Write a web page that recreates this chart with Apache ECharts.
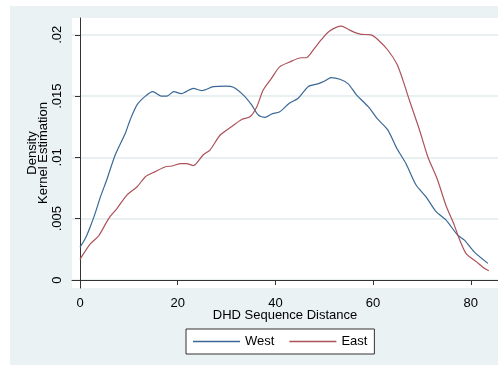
<!DOCTYPE html>
<html><head><meta charset="utf-8">
<script src="https://cdn.jsdelivr.net/npm/echarts@6/dist/echarts.min.js"></script>
<style>html,body{margin:0;padding:0;background:#fff}#c{width:498px;height:365px}</style>
</head><body><div id="c"></div>
<script>
const westX = [0,1.1,2.1,3.1,4.2,5.5,7.2,9.3,10.3,11.7,13.4,14.9,16.6,17.8,19.2,20.7,23.2,24.9,27.3,30.0,31.4,33.4,35.1,36.5,37.9,39.2,40.9,42.8,44.6,46.7,48.7,50.1,51.4,53.2,54.9,56.6,59.0,61.0,63.0,64.9,66.7,68.8,70.8,72.9,74.9,77.3,78.7,80.7,83.5];
const westY = [0.00267,0.0034,0.00435,0.00544,0.0068,0.0082,0.0102,0.0120,0.0131,0.0143,0.0150,0.01536,0.0150,0.0150,0.01536,0.0152,0.01563,0.01545,0.01577,0.01582,0.01572,0.0151,0.0143,0.01346,0.01327,0.01354,0.01373,0.0144,0.0148,0.01577,0.0160,0.01623,0.0165,0.01637,0.0160,0.0151,0.01414,0.0131,0.01224,0.0107,0.00952,0.00775,0.0068,0.00557,0.0049,0.00367,0.00326,0.0023,0.00136];
const eastX = [0,2.1,3.8,5.9,7.6,9.6,11.7,13.4,15.4,17.5,18.8,20.7,21.8,23.2,25.2,26.6,28.7,31.0,33.1,34.8,36.2,37.5,39.2,40.9,42.8,45.3,46.3,48.0,49.4,51.1,53.5,54.9,56.2,57.6,59.6,61.0,63.0,64.9,66.1,67.4,69.5,71.2,73.2,74.9,76.6,77.6,79.0,81.1,83.1,83.7];
const eastY = [0.00169,0.00294,0.00359,0.00503,0.00585,0.00693,0.00761,0.00843,0.00884,0.00924,0.0093,0.0095,0.0095,0.00933,0.0102,0.0106,0.01183,0.0125,0.0131,0.01332,0.01414,0.0155,0.01645,0.0174,0.01776,0.01813,0.01813,0.0189,0.0196,0.0203,0.0207,0.02045,0.0202,0.02004,0.0200,0.0196,0.01876,0.0176,0.0163,0.0147,0.01224,0.01006,0.00816,0.0061,0.0045,0.0034,0.00218,0.0015,0.00087,0.00076];
const xTicks = [0,20,40,60,80];
const yTicks = [0,0.005,0.01,0.015,0.02];
const yTickLabels = ['0','.005','.01','.015','.02'];

const zip = (xs, ys) => xs.map((x,i)=>[x, ys[i]]);
const FONT = 'Liberation Sans, Arial, sans-serif';
const BLUE = '#3a6896', RED = '#ad5258';
const GRID = '#e1ebee';
const chart = echarts.init(document.getElementById('c'), null, {renderer:'canvas'});
chart.setOption({
  backgroundColor: '#ffffff',
  animation: false,
  graphic: [{type:'rect', z:-10, silent:true, shape:{x:10,y:6,width:488,height:359}, style:{fill:'#eaf2f3'}}],
  grid: {left:72, top:18, right:0, bottom:77, containLabel:false, show:true, backgroundColor:'#ffffff', borderWidth:0},
  legend: {
    left:186, top:329, padding:[6,7], itemGap:15, itemWidth:47, itemHeight:1.5,
    backgroundColor:'#ffffff', borderColor:'#333', borderWidth:1, borderRadius:0,
    textStyle:{fontFamily:FONT, fontSize:13, color:'#000'},
    data:[{name:'West', icon:'rect'},{name:'East', icon:'rect'}]
  },
  xAxis: {
    type:'value', min:-1.64, max:85.57,
    name:'DHD Sequence Distance', nameLocation:'middle', nameGap:21, nameMoveOverlap:false,
    nameTextStyle:{fontFamily:FONT, fontSize:13, color:'#000'},
    axisLine:{show:true, lineStyle:{color:'#333', width:1}},
    axisTick:{show:true, length:5, customValues:xTicks, lineStyle:{color:'#333'}},
    axisLabel:{customValues:xTicks, fontFamily:FONT, fontSize:13, color:'#000', margin:9},
    splitLine:{show:false}
  },
  yAxis: {
    type:'value', min:-0.00065, max:0.02137,
    name:'Density\nKernel Estimation', nameLocation:'middle', nameGap:23, nameRotate:90, nameMoveOverlap:false,
    nameTextStyle:{fontFamily:FONT, fontSize:13, color:'#000', lineHeight:11},
    axisLine:{show:true, lineStyle:{color:'#333', width:1}},
    axisTick:{show:true, length:5, customValues:yTicks, lineStyle:{color:'#333'}},
    axisLabel:{customValues:yTicks, rotate:90, fontFamily:FONT, fontSize:13, color:'#000', margin:8,
      formatter:(v)=>{const i=yTicks.findIndex(t=>Math.abs(t-v)<1e-9); return i>=0?yTickLabels[i]:'';}},
    splitLine:{show:true, lineStyle:{color:GRID, width:1.5}}
  },
  series: [
    {name:'West', type:'line', data:zip(westX,westY), symbol:'none', smooth:0.25,
     lineStyle:{color:BLUE, width:1.2}, itemStyle:{color:BLUE}, z:3},
    {name:'East', type:'line', data:zip(eastX,eastY), symbol:'none', smooth:0.25,
     lineStyle:{color:RED, width:1.2}, itemStyle:{color:RED}, z:3}
  ]
});
</script></body></html>
